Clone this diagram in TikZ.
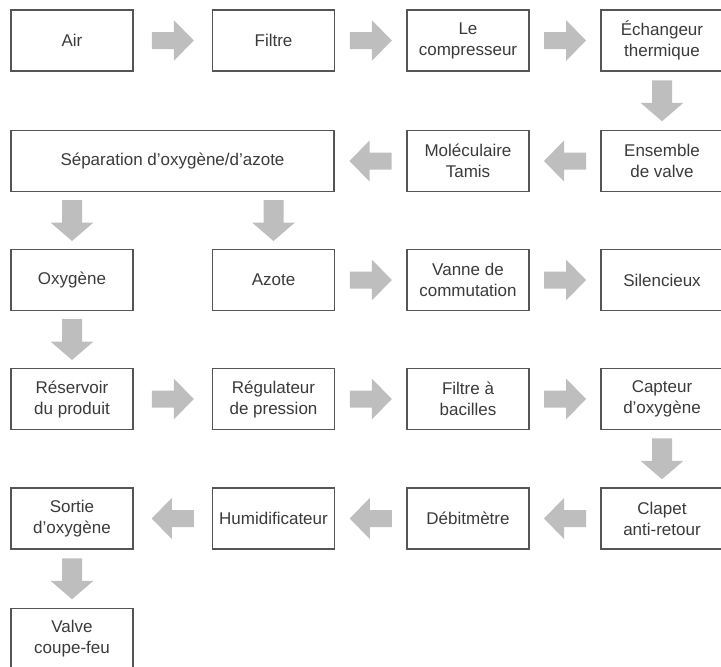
\documentclass[tikz,border=0pt]{standalone}
\usepackage{fontspec}
\setmainfont{Liberation Sans}
\usetikzlibrary{calc}
\definecolor{boxline}{HTML}{555555}
\definecolor{txt}{HTML}{3A3A3A}
\definecolor{arrowgray}{HTML}{BEBEBE}
\tikzset{
 stepbox/.style={draw=boxline, line width=1.3pt, text=txt, align=center,
   minimum height=61pt, minimum width=122pt, inner sep=0pt,
   font=\fontsize{17}{21}\selectfont},
 pics/harrow/.style={code={\fill[arrowgray] (-21,-8.5) -- (1,-8.5) -- (1,-20.5) -- (21,0) -- (1,20.5) -- (1,8.5) -- (-21,8.5) -- cycle;}},
 pics/varrow/.style={code={\fill[arrowgray] (-10,-20.5) -- (-10,2) -- (-21.5,2) -- (0,20.5) -- (21.5,2) -- (10,2) -- (10,-20.5) -- cycle;}},
}
\begin{document}
\begin{tikzpicture}[x=1pt,y=-1pt]
\useasboundingbox (0,0) rectangle (721,667);
% row 1
\node[stepbox] (air) at (72,40.5) {Air};
\node[stepbox] (filtre) at (273.5,40.5) {Filtre};
\node[stepbox] (comp) at (468,40.5) {Le\\compresseur};
\node[stepbox] (echang) at (662,40.5) {Échangeur\\thermique};
% row 2
\node[stepbox, minimum width=323pt] (sep) at (172.5,161) {Séparation d’oxygène/d’azote};
\node[stepbox] (tamis) at (468,161) {Moléculaire\\Tamis};
\node[stepbox] (valve) at (662,161) {Ensemble\\de valve};
% row 3
\node[stepbox] (oxy) at (72,280) {Oxygène};
\node[stepbox] (azote) at (273.5,280) {Azote};
\node[stepbox] (vanne) at (468,280) {Vanne de\\commutation};
\node[stepbox] (silenc) at (662,280) {Silencieux};
% row 4
\node[stepbox] (reserv) at (72,399) {Réservoir\\du produit};
\node[stepbox] (regul) at (273.5,399) {Régulateur\\de pression};
\node[stepbox] (fbac) at (468,399) {Filtre à\\bacilles};
\node[stepbox] (capteur) at (662,399) {Capteur\\d’oxygène};
% row 5
\node[stepbox] (sortie) at (72,518.5) {Sortie\\d’oxygène};
\node[stepbox] (humid) at (273.5,518.5) {Humidificateur};
\node[stepbox] (debit) at (468,518.5) {Débitmètre};
\node[stepbox] (clapet) at (662,518.5) {Clapet\\anti-retour};
% row 6
\node[stepbox] (coupe) at (72,639) {Valve\\coupe-feu};
% arrows
\pic at ($(air.east)!0.5!(filtre.west)$) {harrow};
\pic at ($(filtre.east)!0.5!(comp.west)$) {harrow};
\pic at ($(comp.east)!0.5!(echang.west)$) {harrow};
\pic at ($(echang.south)!0.5!(valve.north)$) {varrow};
\pic[rotate=180] at ($(valve.west)!0.5!(tamis.east)$) {harrow};
\pic[rotate=180] at ($(tamis.west)!0.5!(sep.east)$) {harrow};
\pic at ($(sep.south -| oxy)!0.5!(oxy.north)$) {varrow};
\pic at ($(sep.south -| azote)!0.5!(azote.north)$) {varrow};
\pic at ($(azote.east)!0.5!(vanne.west)$) {harrow};
\pic at ($(vanne.east)!0.5!(silenc.west)$) {harrow};
\pic at ($(oxy.south)!0.5!(reserv.north)$) {varrow};
\pic at ($(reserv.east)!0.5!(regul.west)$) {harrow};
\pic at ($(regul.east)!0.5!(fbac.west)$) {harrow};
\pic at ($(fbac.east)!0.5!(capteur.west)$) {harrow};
\pic at ($(capteur.south)!0.5!(clapet.north)$) {varrow};
\pic[rotate=180] at ($(clapet.west)!0.5!(debit.east)$) {harrow};
\pic[rotate=180] at ($(debit.west)!0.5!(humid.east)$) {harrow};
\pic[rotate=180] at ($(humid.west)!0.5!(sortie.east)$) {harrow};
\pic at ($(sortie.south)!0.5!(coupe.north)$) {varrow};
\end{tikzpicture}
\end{document}
